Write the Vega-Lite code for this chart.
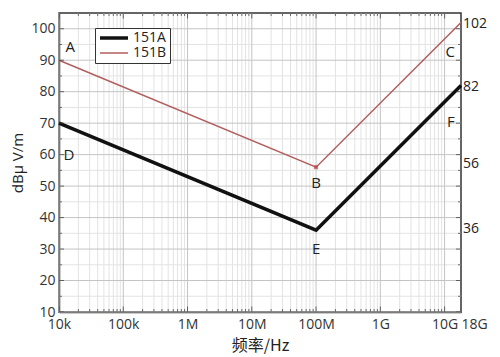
{
  "$schema": "https://vega.github.io/schema/vega-lite/v6.json",
  "width": 402,
  "height": 299,
  "autosize": {"type": "none"},
  "padding": {"left": 59, "top": 13, "right": 39, "bottom": 45},
  "config": {
    "font": "Open Sans",
    "view": {"stroke": "#333333", "strokeWidth": 1.5},
    "axis": {"grid": false, "ticks": false, "domainColor": "#333333", "domainWidth": 1.5, "labelColor": "#333333", "titleColor": "#222222", "labelFontSize": 14, "titleFontWeight": "normal"},
    "axisY": {"labelOverlap": false, "labelBound": false, "labelFlush": false}
  },
  "datasets": {
    "lines": [
      {"f": 10000, "v": 70, "s": "151A"},
      {"f": 100000000, "v": 36, "s": "151A"},
      {"f": 18000000000, "v": 82, "s": "151A"},
      {"f": 10000, "v": 90, "s": "151B"},
      {"f": 100000000, "v": 56, "s": "151B"},
      {"f": 18000000000, "v": 102, "s": "151B"}
    ],
    "xmajor": [{"f": 10000}, {"f": 100000}, {"f": 1000000}, {"f": 10000000}, {"f": 100000000}, {"f": 1000000000}, {"f": 10000000000}],
    "xminor": [
      {"f": 20000}, {"f": 30000}, {"f": 40000}, {"f": 50000}, {"f": 60000}, {"f": 70000}, {"f": 80000}, {"f": 90000},
      {"f": 200000}, {"f": 300000}, {"f": 400000}, {"f": 500000}, {"f": 600000}, {"f": 700000}, {"f": 800000}, {"f": 900000},
      {"f": 2000000}, {"f": 3000000}, {"f": 4000000}, {"f": 5000000}, {"f": 6000000}, {"f": 7000000}, {"f": 8000000}, {"f": 9000000},
      {"f": 20000000}, {"f": 30000000}, {"f": 40000000}, {"f": 50000000}, {"f": 60000000}, {"f": 70000000}, {"f": 80000000}, {"f": 90000000},
      {"f": 200000000}, {"f": 300000000}, {"f": 400000000}, {"f": 500000000}, {"f": 600000000}, {"f": 700000000}, {"f": 800000000}, {"f": 900000000},
      {"f": 2000000000}, {"f": 3000000000}, {"f": 4000000000}, {"f": 5000000000}, {"f": 6000000000}, {"f": 7000000000}, {"f": 8000000000}, {"f": 9000000000}
    ],
    "ymajor": [{"v": 10}, {"v": 20}, {"v": 30}, {"v": 40}, {"v": 50}, {"v": 60}, {"v": 70}, {"v": 80}, {"v": 90}, {"v": 100}],
    "yminor": [{"v": 15}, {"v": 25}, {"v": 35}, {"v": 45}, {"v": 55}, {"v": 65}, {"v": 75}, {"v": 85}, {"v": 95}],
    "labels": [
      {"f": 15000, "v": 94.3, "t": "A"},
      {"f": 100000000, "v": 51, "t": "B"},
      {"f": 12200000000, "v": 92.6, "t": "C"},
      {"f": 14300, "v": 60, "t": "D"},
      {"f": 100000000, "v": 30, "t": "E"},
      {"f": 12500000000, "v": 70.4, "t": "F"}
    ],
    "rlabels": [{"v": 101.5, "t": "102"}, {"v": 81.5, "t": "82"}, {"v": 57, "t": "56"}, {"v": 36.4, "t": "36"}],
    "bpoint": [{"f": 100000000, "v": 56}]
  },
  "layer": [
    {
      "data": {"name": "xminor"},
      "mark": {"type": "rule", "color": "#e3e3e3", "strokeWidth": 1},
      "encoding": {"x": {"field": "f", "type": "quantitative", "scale": {"type": "log", "domain": [10000, 18000000000], "nice": false}}}
    },
    {
      "data": {"name": "yminor"},
      "mark": {"type": "rule", "color": "#e3e3e3", "strokeWidth": 1},
      "encoding": {"y": {"field": "v", "type": "quantitative", "scale": {"domain": [10, 105], "nice": false, "zero": false},
        "axis": {"title": "dBμ V/m", "titleFontSize": 15, "titlePadding": 5, "values": [10, 20, 30, 40, 50, 60, 70, 80, 90, 100], "tickCount": 12, "labelPadding": 4, "labelOverlap": false, "labelFlush": false, "labelBound": false}}}
    },
    {
      "data": {"name": "xmajor"},
      "mark": {"type": "rule", "color": "#c4c4c4", "strokeWidth": 1},
      "encoding": {"x": {"field": "f", "type": "quantitative"}}
    },
    {
      "data": {"name": "ymajor"},
      "mark": {"type": "rule", "color": "#c4c4c4", "strokeWidth": 1},
      "encoding": {"y": {"field": "v", "type": "quantitative"}}
    },
    {
      "data": {"name": "lines"},
      "mark": {"type": "line", "strokeCap": "butt"},
      "encoding": {
        "x": {
          "field": "f", "type": "quantitative",
          "axis": {
            "title": "频率/Hz", "titleFont": "Noto Sans CJK SC", "titleFontSize": 16, "titlePadding": 6,
            "values": [10000, 100000, 1000000, 10000000, 100000000, 1000000000, 10000000000, 18000000000],
            "tickCount": 12,
            "labelExpr": "datum.value >= 15000000000 ? '18G' : datum.value >= 1000000000 ? (datum.value/1000000000) + 'G' : datum.value >= 1000000 ? (datum.value/1000000) + 'M' : (datum.value/1000) + 'k'",
            "labelOverlap": false, "labelFlush": false, "labelBound": false, "labelPadding": 5,
            "labelAlign": {"condition": {"test": "datum.value >= 15000000000", "value": "left"}, "value": "center"}
          }
        },
        "y": {
          "field": "v", "type": "quantitative",
          "axis": {"title": "dBμ V/m", "titleFontSize": 15, "titlePadding": 5, "values": [10, 20, 30, 40, 50, 60, 70, 80, 90, 100], "tickCount": 12, "labelPadding": 4, "labelOverlap": false, "labelFlush": false, "labelBound": false}
        },
        "color": {
          "field": "s", "type": "nominal",
          "scale": {"domain": ["151A", "151B"], "range": ["#111111", "#b35e5e"]},
          "legend": {
            "orient": "none", "legendX": 36, "legendY": 15, "title": null,
            "symbolType": "stroke", "symbolSize": 784, "clipHeight": 14, "rowPadding": 1,
            "labelFontSize": 14, "labelColor": "#222222", "labelOffset": 3,
            "strokeColor": "#333333", "fillColor": "#ffffff", "padding": 3,
            "encode": {"symbols": {"update": {"strokeWidth": {"signal": "datum.value === '151A' ? 3.5 : 1.5"}}}}
          }
        },
        "strokeWidth": {"field": "s", "type": "nominal", "scale": {"domain": ["151A", "151B"], "range": [3.5, 1.5]}, "legend": null}
      }
    },
    {
      "data": {"name": "bpoint"},
      "mark": {"type": "point", "shape": "square", "filled": true, "size": 16, "color": "#c03c3c"},
      "encoding": {"x": {"field": "f", "type": "quantitative"}, "y": {"field": "v", "type": "quantitative"}}
    },
    {
      "data": {"name": "labels"},
      "mark": {"type": "text", "fontSize": 15, "color": "#222222", "align": "center", "baseline": "middle"},
      "encoding": {"x": {"field": "f", "type": "quantitative"}, "y": {"field": "v", "type": "quantitative"}, "text": {"field": "t"}}
    },
    {
      "data": {"name": "rlabels"},
      "mark": {"type": "text", "fontSize": 14, "color": "#222222", "align": "left", "baseline": "middle", "dx": 2},
      "encoding": {"x": {"datum": 18000000000, "type": "quantitative"}, "y": {"field": "v", "type": "quantitative"}, "text": {"field": "t"}}
    },
    {
      "data": {"name": "xmajor"},
      "mark": {"type": "tick", "orient": "vertical", "size": 11, "thickness": 1, "color": "#333333", "clip": true},
      "encoding": {"x": {"field": "f", "type": "quantitative"}, "y": {"datum": 10, "type": "quantitative"}}
    },
    {
      "data": {"name": "xmajor"},
      "mark": {"type": "tick", "orient": "vertical", "size": 11, "thickness": 1, "color": "#333333", "clip": true},
      "encoding": {"x": {"field": "f", "type": "quantitative"}, "y": {"datum": 105, "type": "quantitative"}}
    },
    {
      "data": {"name": "xminor"},
      "mark": {"type": "tick", "orient": "vertical", "size": 6, "thickness": 1, "color": "#333333", "clip": true},
      "encoding": {"x": {"field": "f", "type": "quantitative"}, "y": {"datum": 10, "type": "quantitative"}}
    },
    {
      "data": {"name": "xminor"},
      "mark": {"type": "tick", "orient": "vertical", "size": 6, "thickness": 1, "color": "#333333", "clip": true},
      "encoding": {"x": {"field": "f", "type": "quantitative"}, "y": {"datum": 105, "type": "quantitative"}}
    },
    {
      "data": {"name": "ymajor"},
      "mark": {"type": "tick", "orient": "horizontal", "size": 10, "thickness": 1, "color": "#333333", "clip": true},
      "encoding": {"x": {"datum": 10000, "type": "quantitative"}, "y": {"field": "v", "type": "quantitative"}}
    },
    {
      "data": {"name": "yminor"},
      "mark": {"type": "tick", "orient": "horizontal", "size": 6, "thickness": 1, "color": "#333333", "clip": true},
      "encoding": {"x": {"datum": 10000, "type": "quantitative"}, "y": {"field": "v", "type": "quantitative"}}
    },
    {
      "data": {"name": "ymajor"},
      "mark": {"type": "tick", "orient": "horizontal", "size": 10, "thickness": 1, "color": "#333333", "clip": true},
      "encoding": {"x": {"datum": 18000000000, "type": "quantitative"}, "y": {"field": "v", "type": "quantitative"}}
    },
    {
      "data": {"name": "yminor"},
      "mark": {"type": "tick", "orient": "horizontal", "size": 6, "thickness": 1, "color": "#333333", "clip": true},
      "encoding": {"x": {"datum": 18000000000, "type": "quantitative"}, "y": {"field": "v", "type": "quantitative"}}
    }
  ]
}
